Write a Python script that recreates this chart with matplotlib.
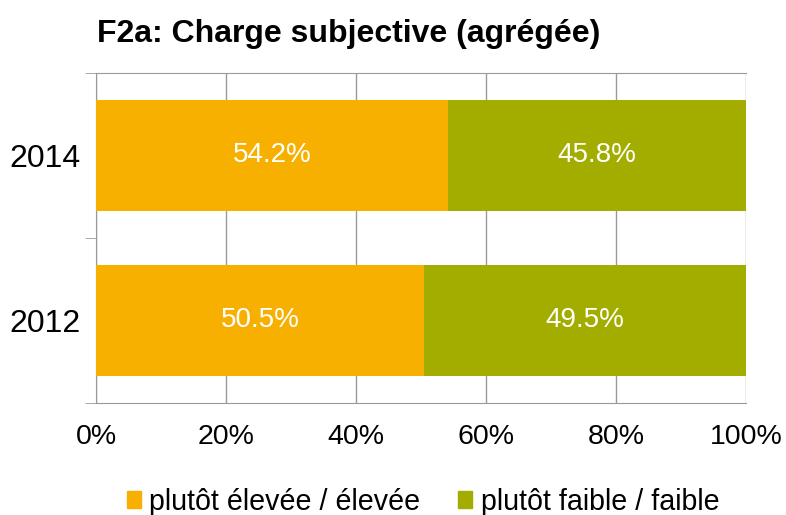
import matplotlib
matplotlib.use("Agg")
import matplotlib.pyplot as plt
from matplotlib.patches import Patch

years = ["2012", "2014"]
elevee = [50.5, 54.2]
faible = [49.5, 45.8]
series_names = ["plutôt élevée / élevée", "plutôt faible / faible"]
xticks = [0, 20, 40, 60, 80, 100]
xticklabels = ["0%", "20%", "40%", "60%", "80%", "100%"]
title = "F2a: Charge subjective (agrégée)"

plt.rcParams["font.family"] = ["Liberation Sans", "DejaVu Sans"]

c1 = "#F7B000"
c2 = "#A2AD00"

fig = plt.figure(figsize=(7.86, 5.15), dpi=100)
ax = fig.add_axes([0.1221, 0.2175, 0.827, 0.6408])

y = [0, 1]
h = 0.667
ax.barh(y, elevee, height=h, color=c1, zorder=3)
ax.barh(y, faible, left=elevee, height=h, color=c2, zorder=3)
for i in range(len(years)):
    ax.text(elevee[i] / 2, y[i], f"{elevee[i]:.1f}%", color="white", ha="center", va="center", fontsize=20, zorder=4)
    ax.text(elevee[i] + faible[i] / 2, y[i], f"{faible[i]:.1f}%", color="white", ha="center", va="center", fontsize=20, zorder=4)

ax.set_xlim(0, 100)
ax.set_ylim(-0.5, 1.5)
ax.set_xticks(xticks)
ax.set_xticklabels(xticklabels, fontsize=20.5)
ax.set_yticks(y)
ax.set_yticklabels(years, fontsize=23)
ax.tick_params(axis="y", length=0, pad=11)
ax.tick_params(axis="x", length=0, pad=15)
ax.set_yticks([-0.5, 0.5, 1.5], minor=True)
ax.tick_params(axis="y", which="minor", length=8, color="#999999")
ax.grid(axis="x", color="#999999", linewidth=1, zorder=0)
for s in ["left", "top", "bottom"]:
    ax.spines[s].set_color("#999999")
ax.spines["right"].set_visible(False)

fig.text(0.1234, 0.918, title, fontsize=23, fontweight="bold", ha="left", va="baseline")

handles = [Patch(color=c1), Patch(color=c2)]
fig.legend(handles, series_names, loc="center", bbox_to_anchor=(0.538, 0.026), ncol=2, frameon=False,
           fontsize=20.6, handlelength=0.5, handleheight=0.5, handletextpad=0.3, columnspacing=1.3,
           borderpad=0.1)

fig.savefig("out.png", dpi=100)
